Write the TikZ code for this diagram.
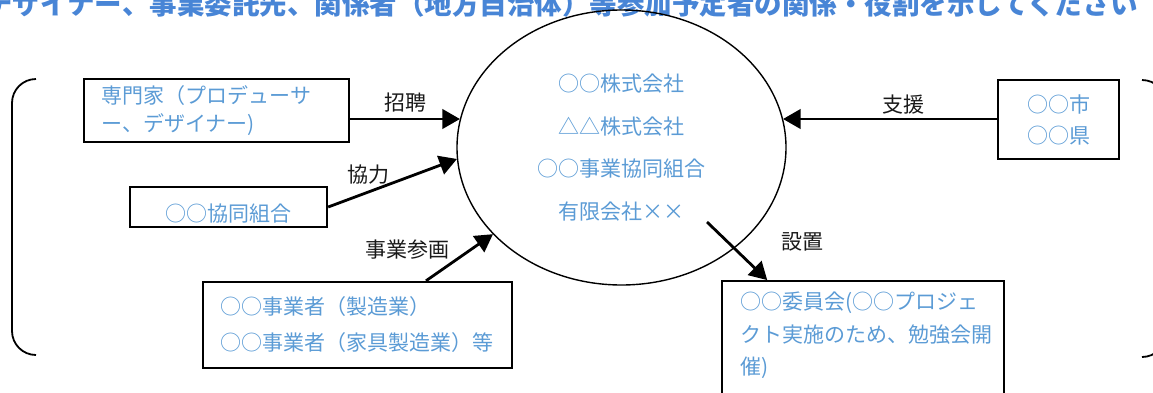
\documentclass[tikz,border=0pt]{standalone}
\usepackage{fontspec}
\setmainfont{Noto Sans CJK JP}
\usetikzlibrary{arrows}
\usetikzlibrary{shapes.geometric}
\usetikzlibrary{calc}
\definecolor{textblue}{RGB}{91,155,213}
\definecolor{headblue}{RGB}{72,133,214}

\begin{document}
\begin{tikzpicture}[x=0.5pt,y=-0.5pt]
\tikzstyle{box text}=[draw,line width=1.2pt,inner sep=0pt,text=textblue]
\tikzstyle{label text}=[font=\fontsize{10.5pt}{14pt}\selectfont,text=black!90]
\tikzstyle{link}=[line width=1.4pt,-triangle 60]

\useasboundingbox (0,0) rectangle (1153,392);
\clip (0,0) rectangle (1153,392);

% encabezado cortado
\node[anchor=base west,inner sep=0pt,text=headblue,font=\fontsize{13.75pt}{14pt}\selectfont\bfseries] (titulo) at (-15,14) {デザイナー、事業委託先、関係者（地方自治体）等参加予定者の関係・役割を示してください};

% corchetes
\draw[line width=0.9pt,rounded corners=12pt] (36,79) -- (12,79) -- (12,355) -- (36,355);
\draw[line width=0.9pt,rounded corners=12pt] (1142,80) -- (1166,80) -- (1166,357) -- (1142,357);

\node[ellipse,draw,line width=0.7pt,minimum width=164.5pt,minimum height=137.5pt,inner sep=0pt,align=center,text=textblue,font=\fontsize{10.5pt}{21.3pt}\selectfont] (kaisha) at (621.5,147.5) {○○株式会社\\△△株式会社\\○○事業協同組合\\有限会社××};

\node[box text,minimum width=132.5pt,minimum height=31.5pt,text width=115pt,align=left,font=\fontsize{10.5pt}{14pt}\selectfont] (senmonka) at (216.5,110.5) {専門家（プロデューサ\\ー、デザイナー)};
\node[box text,minimum width=98.5pt,minimum height=20pt,text height=15pt,font=\fontsize{10.5pt}{14pt}\selectfont] (kumiai) at (228.5,207) {○○協同組合};
\node[box text,minimum width=154.5pt,minimum height=43pt,text width=137pt,align=left,font=\fontsize{10.5pt}{18pt}\selectfont] (jigyosha) at (357.5,325) {○○事業者（製造業）\\○○事業者（家具製造業）等};
\node[box text,minimum width=60.5pt,minimum height=39.5pt,align=center,font=\fontsize{10.5pt}{15.5pt}\selectfont] (shi) at (1058.5,119.5) {○○市\\○○県};
\node[box text,anchor=north,minimum width=141pt,text width=123pt,inner ysep=5.4pt,text depth=45pt,align=left,font=\fontsize{10.5pt}{16.25pt}\selectfont] (iinkai) at (863,280) {○○委員会(○○プロジェ\\クト実施のため、勉強会開\\催)};

\node[label text] (shohei) at (405,103) {招聘};
\node[label text] (kyoryoku) at (368,175) {協力};
\node[label text] (sankaku) at (407,250) {事業参画};
\node[label text] (shien) at (903,105) {支援};
\node[label text] (setchi) at (802,242) {設置};

\coordinate (setchi inicio) at (707,222);

\draw[link] (senmonka.east |- kaisha.170) -- (kaisha.170);
\draw[link] (kumiai.east) -- (kaisha.184);
\draw[link] ($(jigyosha.north west)!0.72!(jigyosha.north east)$) -- (kaisha.214);
\draw[link] (shi.west |- kaisha.10) -- (kaisha.10);
\draw[link] (setchi inicio) -- ($(iinkai.north west)!0.163!(iinkai.north east)$);
\end{tikzpicture}
\end{document}
